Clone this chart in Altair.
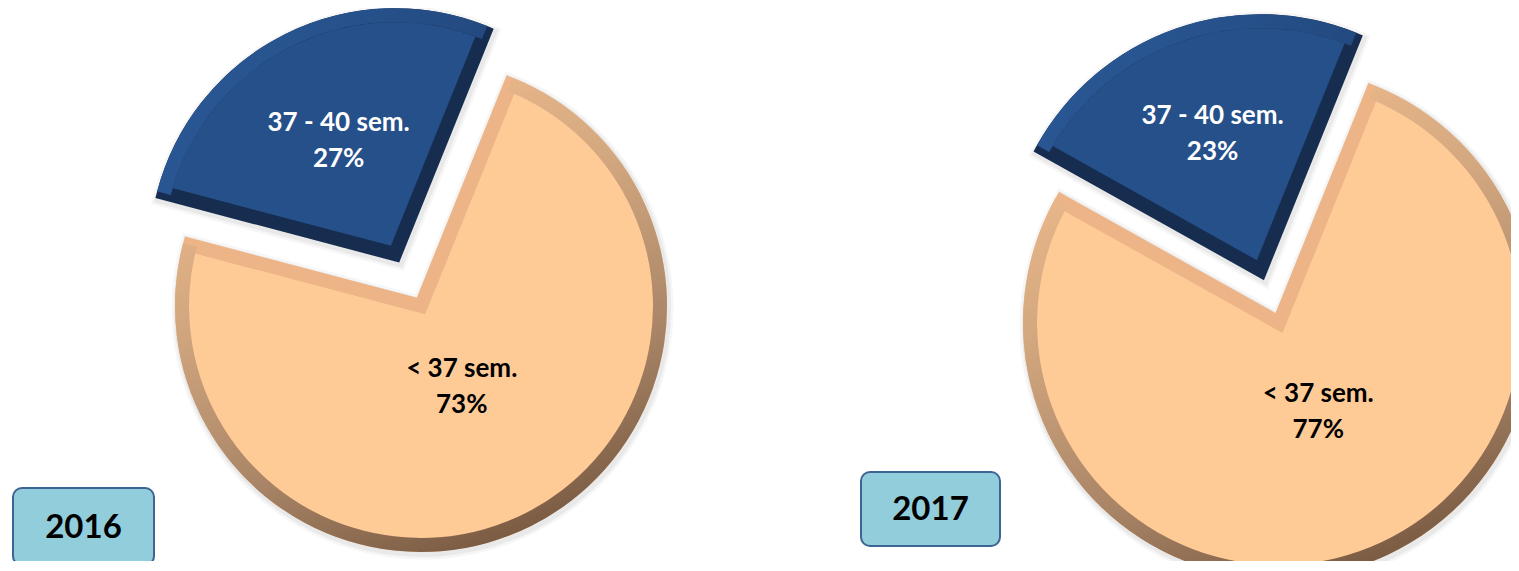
import math
import altair as alt
import pandas as pd

# ---------------- data ----------------
years = ["2016", "2017"]
categories = ["< 37 sem.", "37 - 40 sem."]
share_2016 = [73, 27]
share_2017 = [77, 23]
shares_by_year = {"2016": share_2016, "2017": share_2017}

rows = []
for yr in years:
    for i, (cat, val) in enumerate(zip(categories, shares_by_year[yr])):
        rows.append({"year": yr, "category": cat, "value": val, "order": i})
df = pd.DataFrame(rows)

# ---------------- layout / style ----------------
W, H = 1503, 553
START_DEG = 22.0
a0 = math.radians(START_DEG)
theta_scale = alt.Scale(domain=[0, 100], range=[a0, a0 + 2 * math.pi])
x_scale = alt.Scale(type="point", domain=years, range=[413, 1271], padding=0)
y_scale = alt.Scale(type="point", domain=years, range=[298, 315], padding=0)

radius = {"2016": 246, "2017": 256}
explode = {"2016": 58, "2017": 56}          # distance the 2nd slice is pulled out
label_r = {"2016": [91, 126], "2017": [94, 144]}
label_dx = {"2016": [0, 0], "2017": [8, 0]}
BEV = 7
FS = 26
LH = 36

face = ["#FECB97", "#26508A"]
bevel = ["#EDB487", "#162D50"]
text_col = ["#000000", "#FFFFFF"]
rim = [
    alt.LinearGradient(gradient="linear", x1=0.3, y1=0, x2=0.7, y2=1, stops=[
        alt.GradientStop(offset=0, color="#F2BD8D"),
        alt.GradientStop(offset=0.35, color="#D2A77F"),
        alt.GradientStop(offset=0.7, color="#A88466"),
        alt.GradientStop(offset=1, color="#75573F")]),
    alt.LinearGradient(gradient="linear", x1=0, y1=0, x2=1, y2=0.3, stops=[
        alt.GradientStop(offset=0, color="#2B5B99"),
        alt.GradientStop(offset=1, color="#23497F")]),
]

base = (
    alt.Chart(df)
    .transform_window(cum="sum(value)", groupby=["year"], sort=[alt.SortField("order")])
    .transform_calculate(
        start="datum.cum - datum.value",
        mid="datum.cum - datum.value / 2",
        label="datum.category + '\\n' + datum.value + '%'",
    )
)

X = alt.X("year:N", scale=x_scale, axis=None)
Y = alt.Y("year:N", scale=y_scale, axis=None)
TH = alt.Theta("start:Q", scale=theta_scale, stack=None)
TH2 = alt.Theta2("cum:Q")

shadows, slices, labels = [], [], []
for yr in years:
    vals = shares_by_year[yr]
    R = radius[yr]
    cum = 0
    for i, v in enumerate(vals):
        mid = a0 + (cum + v / 2) / 100 * 2 * math.pi
        cum += v
        e = explode[yr] if i == 1 else 0
        ox, oy = e * math.sin(mid), -e * math.cos(mid)
        sel = base.transform_filter((alt.datum.year == yr) & (alt.datum.order == i))
        enc = dict(x=X, y=Y, theta=TH, theta2=TH2)
        for sw, op in [(2 * BEV + 10, 0.035), (2 * BEV + 5, 0.05)]:
            shadows.append(sel.mark_arc(outerRadius=R - BEV, fillOpacity=0, stroke="#000000",
                                        strokeOpacity=op, strokeWidth=sw, strokeJoin="miter",
                                        xOffset=ox + 1.5, yOffset=oy + 2.5).encode(**enc))
        slices.append(sel.mark_arc(outerRadius=R - BEV, fill=face[i], stroke=bevel[i],
                                   strokeWidth=2 * BEV, strokeJoin="miter",
                                   xOffset=ox, yOffset=oy).encode(**enc))
        slices.append(sel.mark_arc(outerRadius=R, innerRadius=R - 2 * BEV, fill=rim[i],
                                   xOffset=ox, yOffset=oy).encode(**enc))
        labels.append(sel.mark_text(radius=label_r[yr][i], font="Lato", fontWeight="bold",
                                    fontSize=FS, lineHeight=LH, lineBreak="\n",
                                    align="center", baseline="middle", color=text_col[i],
                                    dx=ox + label_dx[yr][i], dy=oy - LH / 2).encode(
            x=X, y=Y, theta=alt.Theta("mid:Q", scale=theta_scale, stack=None), text="label:N"))

# year boxes
box_x = [5, 853]
box_x2 = [146, 992]
box_y = [480, 464]
box_y2 = [557, 538]
boxes = []
for k, yr in enumerate(years):
    bdf = pd.DataFrame({"year": [yr]})
    b = alt.Chart(bdf)
    boxes.append(b.mark_rect(cornerRadius=9, fill="#92CDDC", stroke="#3E6494", strokeWidth=2).encode(
        x=alt.value(box_x[k]), x2=alt.value(box_x2[k]), y=alt.value(box_y[k]), y2=alt.value(box_y2[k])))
    boxes.append(b.mark_text(font="Lato", fontWeight="bold", fontSize=33, color="#000000",
                             align="center", baseline="middle").encode(
        text="year:N", x=alt.value((box_x[k] + box_x2[k]) / 2), y=alt.value((box_y[k] + box_y2[k]) / 2 + 1)))

chart = alt.layer(*shadows, *slices, *labels, *boxes).properties(
    width=W, height=H, autosize=alt.AutoSizeParams(type="none"), padding=0
).configure_view(stroke=None)

chart.save("out.html", embed_options={"renderer": "svg", "actions": False})
